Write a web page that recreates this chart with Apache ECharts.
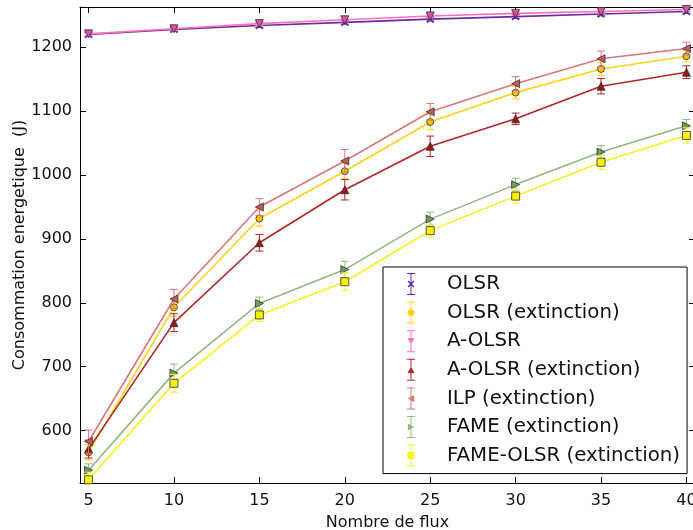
<!DOCTYPE html>
<html>
<head>
<meta charset="utf-8">
<script src="https://cdn.jsdelivr.net/npm/echarts@6/dist/echarts.min.js"></script>
<style>
html, body { margin: 0; padding: 0; background: #fff; }
#main { width: 693px; height: 530px; }
</style>
</head>
<body>
<div id="main"></div>
<script>
// nombre de flux
var xs = [5, 10, 15, 20, 25, 30, 35, 40];
var xTicks = [5, 10, 15, 20, 25, 30, 35, 40];
var yTicks = [600, 700, 800, 900, 1000, 1100, 1200];

// valeurs moyennes (J)
var olsr        = [1220, 1228, 1234, 1239, 1244, 1248, 1252, 1256];
var olsrExt     = [566, 793, 932, 1006, 1083, 1129, 1166, 1186];
var aolsr       = [1221, 1229, 1237, 1243, 1249, 1253, 1256, 1259];
var aolsrExt    = [571, 769, 894, 977, 1045, 1088, 1139, 1161];
var ilpExt      = [583, 806, 950, 1022, 1099, 1143, 1182, 1198];
var fameExt     = [538, 690, 799, 852, 931, 985, 1036, 1077];
var fameOlsrExt = [523, 674, 781, 833, 913, 967, 1020, 1062];

// demi-largeur des barres d'erreur (J)
var olsrErr        = [3, 3, 3, 3, 3, 3, 3, 3];
var olsrExtErr     = [12, 14, 12, 12, 12, 10, 10, 9];
var aolsrErr       = [3, 3, 3, 3, 3, 3, 3, 3];
var aolsrExtErr    = [14, 14, 13, 16, 16, 9, 12, 10];
var ilpExtErr      = [18, 15, 13, 18, 13, 11, 12, 10];
var fameExtErr     = [10, 14, 10, 13, 11, 10, 10, 10];
var fameOlsrExtErr = [12, 14, 10, 14, 10, 11, 11, 12];

var dom = document.getElementById('main');
var myChart = echarts.init(dom, null, { renderer: 'canvas' });

// formes des marqueurs (boite unite)
var shapes = {
    x: [[0,0.15],[0.15,0],[0.5,0.35],[0.85,0],[1,0.15],[0.65,0.5],[1,0.85],[0.85,1],[0.5,0.65],[0.15,1],[0,0.85],[0.35,0.5]],
    down: [[0,0.05],[1,0.05],[0.5,0.95]],
    up: [[0.5,0.05],[1,0.95],[0,0.95]],
    left: [[0.05,0.5],[0.95,0],[0.95,1]],
    right: [[0.05,0],[0.95,0.5],[0.05,1]],
    square: [[0,0],[1,0],[1,1],[0,1]],
    circle: (function () {
        var p = [];
        for (var k = 0; k < 20; k++) {
            var a = k / 20 * Math.PI * 2;
            p.push([0.5 + 0.5 * Math.cos(a), 0.5 + 0.5 * Math.sin(a)]);
        }
        return p;
    })()
};

function polyPath(pts, cx, cy, s) {
    var area = 0;
    for (var i = 0; i < pts.length; i++) {
        var a = pts[i], b = pts[(i + 1) % pts.length];
        area += a[0] * b[1] - b[0] * a[1];
    }
    if (area < 0) pts = pts.slice().reverse();
    return pts.map(function (p, i) {
        var x = (cx - s / 2 + p[0] * s).toFixed(2);
        var y = (cy - s / 2 + p[1] * s).toFixed(2);
        return (i === 0 ? 'M' : 'L') + x + ' ' + y;
    }).join('') + 'Z';
}

function seriesSymbol(kind) {
    if (kind === 'circle') return 'circle';
    if (kind === 'square') return 'rect';
    return 'path://' + polyPath(shapes[kind], 5, 5, 10);
}

// icone de legende : barre d'erreur + marqueur
function legendIcon(kind, ms) {
    return 'path://M0 0L0 0.01 M36 11L36 11.01 ' +
        'M1 0H9V1H1Z M4.5 0H5.5V22H4.5Z M1 21H9V22H1Z ' +
        polyPath(shapes[kind], 5, 11, ms);
}

var defs = [
    { name: 'OLSR', vals: olsr, err: olsrErr, color: '#6a2aa3', fill: '#6a2aa3', kind: 'x', size: 8, border: 0 },
    { name: 'OLSR (extinction)', vals: olsrExt, err: olsrExtErr, color: '#ffd11a', fill: '#f2c200', kind: 'circle', size: 8, border: 0.8 },
    { name: 'A-OLSR', vals: aolsr, err: aolsrErr, color: '#ff72b9', fill: '#d8579c', kind: 'down', size: 8, border: 0.8 },
    { name: 'A-OLSR (extinction)', vals: aolsrExt, err: aolsrExtErr, color: '#b52628', fill: '#9c1517', kind: 'up', size: 8, border: 0.8 },
    { name: 'ILP (extinction)', vals: ilpExt, err: ilpExtErr, color: '#da7879', fill: '#c65758', kind: 'left', size: 8, border: 0.8 },
    { name: 'FAME (extinction)', vals: fameExt, err: fameExtErr, color: '#93b782', fill: '#6e9a5e', kind: 'right', size: 8, border: 0.8 },
    { name: 'FAME-OLSR (extinction)', vals: fameOlsrExt, err: fameOlsrExtErr, color: '#f8f21c', fill: '#f5ef00', kind: 'square', size: 8, border: 0.8 }
];

var series = [];
var legendData = [];
defs.forEach(function (d, k) {
    var color = d.color;
    series.push({
        name: d.name + ' err',
        type: 'custom',
        z: 2 + k * 2,
        clip: true,
        silent: true,
        encode: { x: 0, y: [1, 2] },
        data: xs.map(function (x, i) {
            return [x, d.vals[i] - d.err[i], d.vals[i] + d.err[i]];
        }),
        renderItem: function (params, api) {
            var lo = api.coord([api.value(0), api.value(1)]);
            var hi = api.coord([api.value(0), api.value(2)]);
            var hw = 4;
            var st = { stroke: color, lineWidth: 1 };
            return {
                type: 'group',
                children: [
                    { type: 'line', shape: { x1: lo[0], y1: lo[1], x2: hi[0], y2: hi[1] }, style: st },
                    { type: 'line', shape: { x1: lo[0] - hw, y1: lo[1], x2: lo[0] + hw, y2: lo[1] }, style: st },
                    { type: 'line', shape: { x1: hi[0] - hw, y1: hi[1], x2: hi[0] + hw, y2: hi[1] }, style: st }
                ]
            };
        }
    });
    series.push({
        name: d.name,
        type: 'line',
        z: 3 + k * 2,
        clip: true,
        symbol: seriesSymbol(d.kind),
        symbolSize: d.kind === 'circle' ? 7 : d.size,
        showSymbol: true,
        data: xs.map(function (x, i) { return [x, d.vals[i]]; }),
        lineStyle: { color: color, width: 1.6 },
        itemStyle: { color: d.fill, borderColor: '#333', borderWidth: d.border },
        emphasis: { disabled: true }
    });
    legendData.push({
        name: d.name,
        icon: legendIcon(d.kind, 7),
        itemStyle: { color: color, borderWidth: 0 }
    });
});

var txt = { fontFamily: 'DejaVu Sans', fontSize: 16, color: '#111' };
var spine = { show: true, onZero: false, lineStyle: { color: '#000', width: 1 } };
var tickIn = { show: true, inside: true, length: 6, lineStyle: { color: '#000' } };
var plain = function (v) { return String(v); };

var option = {
    animation: false,
    backgroundColor: '#fff',
    grid: { left: 80, right: -2, top: 7, bottom: 47, containLabel: false, outerBoundsMode: 'none' },
    legend: {
        orient: 'vertical',
        left: 383,
        top: 267,
        padding: [6, 7, 7, 23],
        itemWidth: 36,
        itemHeight: 22,
        itemGap: 6.6,
        backgroundColor: '#fff',
        borderColor: '#000',
        borderWidth: 1,
        borderRadius: 0,
        itemStyle: { borderWidth: 0 },
        textStyle: { fontFamily: 'DejaVu Sans', fontSize: 19.8, color: '#111' },
        data: legendData
    },
    xAxis: [{
        type: 'value',
        min: 4.5,
        max: 40.5,
        name: 'Nombre de flux',
        nameLocation: 'middle',
        nameGap: 32,
        nameTextStyle: txt,
        axisLine: spine,
        axisTick: Object.assign({ customValues: xTicks }, tickIn),
        axisLabel: Object.assign({ customValues: xTicks, margin: 10, formatter: plain }, txt),
        splitLine: { show: false }
    }, {
        type: 'value',
        position: 'top',
        min: 4.5,
        max: 40.5,
        axisLine: spine,
        axisTick: Object.assign({ customValues: xTicks }, tickIn),
        axisLabel: { show: false },
        splitLine: { show: false }
    }],
    yAxis: [{
        type: 'value',
        min: 518,
        max: 1263,
        name: 'Consommation energetique  (J)',
        nameLocation: 'middle',
        nameGap: 52,
        nameMoveOverlap: false,
        nameTextStyle: txt,
        axisLine: spine,
        axisTick: Object.assign({ customValues: yTicks }, tickIn),
        axisLabel: Object.assign({ customValues: yTicks, margin: 8, formatter: plain }, txt),
        splitLine: { show: false }
    }, {
        type: 'value',
        position: 'right',
        min: 518,
        max: 1263,
        axisLine: spine,
        axisTick: Object.assign({ customValues: yTicks }, tickIn),
        axisLabel: { show: false },
        splitLine: { show: false }
    }],
    series: series
};

option && myChart.setOption(option);
window.addEventListener('resize', myChart.resize);
</script>
</body>
</html>
